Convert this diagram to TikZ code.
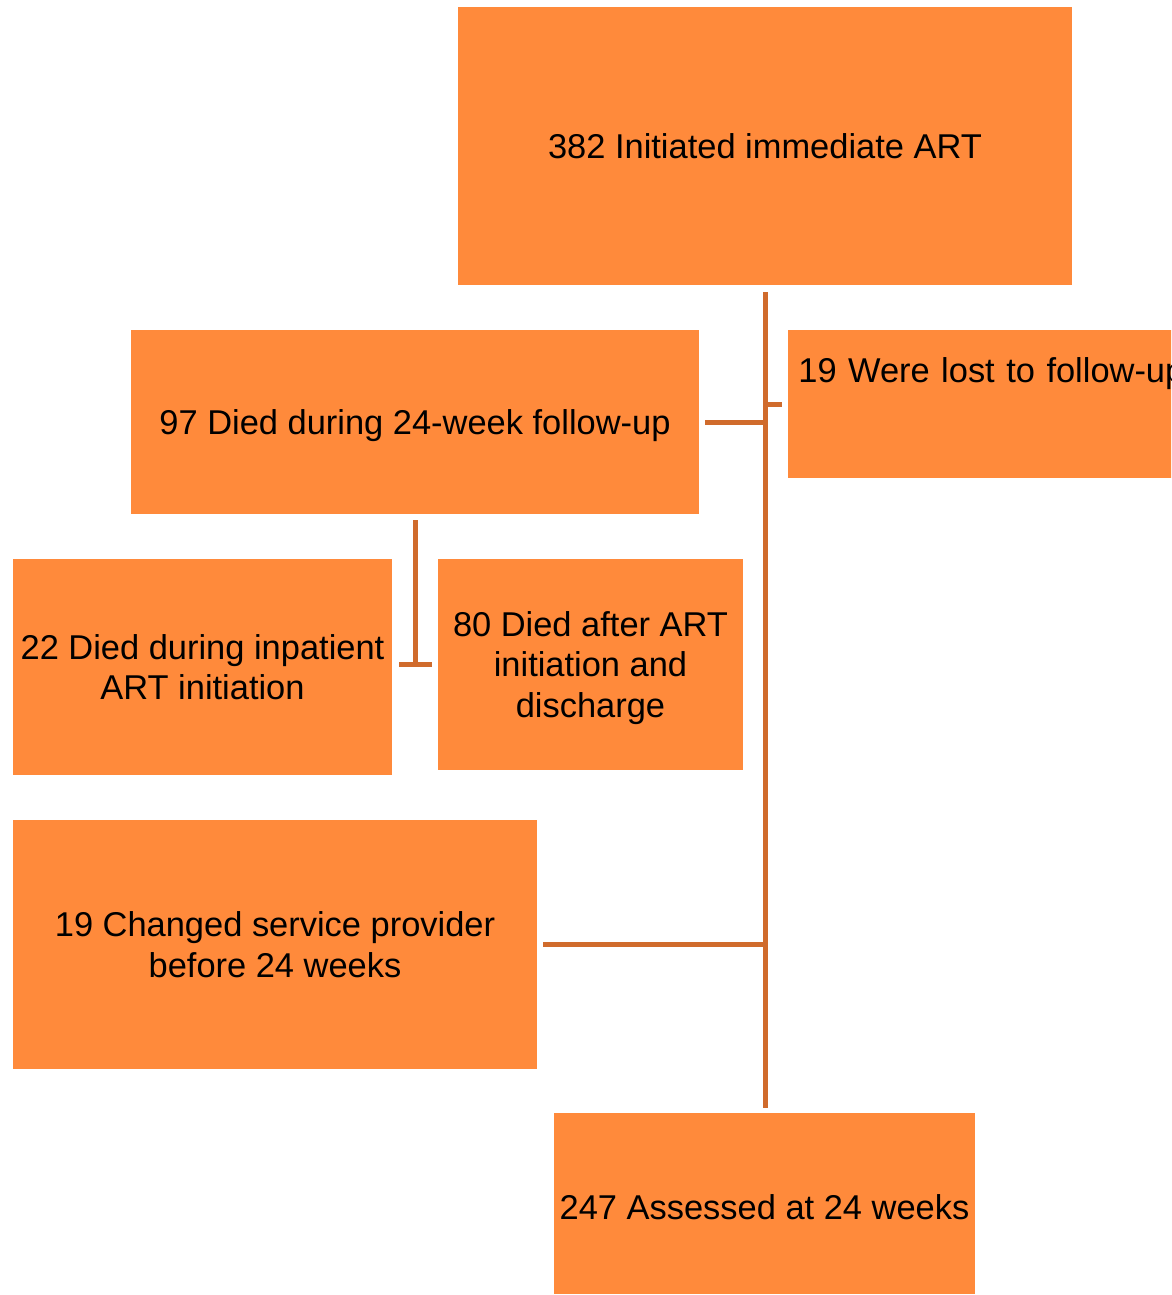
\documentclass[tikz,border=0pt]{standalone}
\usepackage{fontspec}
\setmainfont{Liberation Sans}
\usepackage{tikz}
\usetikzlibrary{calc}
\definecolor{boxfill}{HTML}{FF8A3B}
\definecolor{linkcol}{HTML}{D06B2C}

\begin{document}
\begin{tikzpicture}[x=0.02cm,y=-0.02cm,
    stage/.style={rectangle,fill=boxfill,text=black,inner sep=0pt,align=center,text depth=0pt,
      font=\fontsize{19.6pt}{22.8pt}\selectfont},
    link/.style={draw=linkcol,line width=0.1cm}]
    \useasboundingbox (0,0) rectangle (1171,1295);
    \clip (0,0) rectangle (1171,1295);

    \node[stage,minimum width=12.28cm,minimum height=5.56cm] (start) at (765,146) {382 Initiated immediate ART};
    \node[stage,minimum width=11.36cm,minimum height=3.68cm] (died) at (415,422) {97 Died during 24-week follow-up};
    \node[stage,anchor=north west,inner xsep=0.2cm,inner ysep=0.2cm,text width=12cm,align=left,
      text height=0.84cm,text depth=1.72cm] (lost) at (788,330) {19 Were lost to follow-up};
    \node[stage,minimum width=7.58cm,minimum height=4.32cm] (inpatient) at (202.5,667) {22 Died during inpatient\\ART initiation};
    \node[stage,minimum width=6.1cm,minimum height=4.22cm] (after) at (590.5,664.5) {80 Died after ART\\initiation and\\discharge};
    \node[stage,minimum width=10.48cm,minimum height=4.98cm] (changed) at (275,944.5) {19 Changed service provider\\before 24 weeks};
    \node[stage,minimum width=8.42cm,minimum height=3.62cm,text height=18.6pt] (assessed) at (764.5,1203.5) {247 Assessed at 24 weeks};

    % main trunk and its branches
    \draw[link,shorten <=0.14cm,shorten >=0.1cm] (start.south) -- (start.south |- assessed.north);
    \draw[link,shorten <=0.12cm] (died.east) -- (died.east -| start.south);
    \draw[link,shorten >=0.12cm] (lost.west -| start.south) -- (lost.west);
    \draw[link,shorten <=0.12cm] (changed.east) -- (changed.east -| start.south);

    % split of the deaths
    \draw[link,shorten <=0.12cm] (died.south) -- (died.south |- after.west);
    \draw[link,shorten <=0.14cm,shorten >=0.12cm] (inpatient.east |- after.west) -- (after.west);
  \end{tikzpicture}
\end{document}
